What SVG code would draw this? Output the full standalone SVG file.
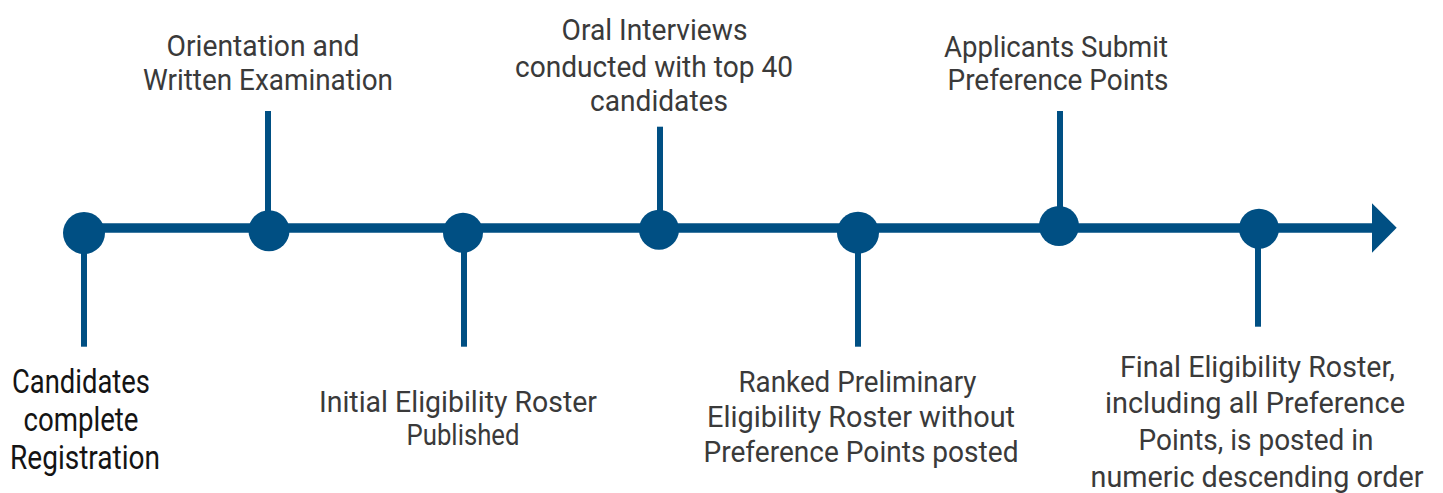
<svg xmlns="http://www.w3.org/2000/svg" width="1443" height="493" viewBox="0 0 1443 493">
<style>
.ln{stroke:#004f83;fill:none}
.main{stroke-width:9.5}
.stem{stroke-width:6}
.dot{fill:#004f83}
.t{font-family:Roboto,"Liberation Sans",sans-serif;font-size:30px;fill:#3a3a3a;text-anchor:middle}
.t2{font-family:Roboto,"Liberation Sans",sans-serif;font-size:33px;fill:#141414;text-anchor:middle}
</style>
<defs>
<marker id="arr" markerUnits="userSpaceOnUse" markerWidth="26" markerHeight="50" refX="0" refY="24.7" orient="auto" viewBox="0 0 26 50">
<path d="M0,0 L24.7,24.4 L0,49.4 z" fill="#004f83"/>
</marker>
</defs>
<g id="connectors">
<line class="ln main" x1="84" y1="228" x2="1372" y2="228" marker-end="url(#arr)"/>
<line class="ln stem" x1="84" y1="233" x2="84" y2="346.7"/>
<line class="ln stem" x1="268" y1="111" x2="268" y2="230"/>
<line class="ln stem" x1="464" y1="233" x2="464" y2="346.7"/>
<line class="ln stem" x1="660" y1="126.7" x2="660" y2="230"/>
<line class="ln stem" x1="858" y1="233" x2="858" y2="346.7"/>
<line class="ln stem" x1="1060" y1="111" x2="1060" y2="226"/>
<line class="ln stem" x1="1258" y1="229" x2="1258" y2="326.7"/>
</g>
<g id="n1">
<circle class="dot" cx="84" cy="233" r="21"/>
<text class="t2"><tspan x="81" y="393.3" textLength="138" lengthAdjust="spacingAndGlyphs">Candidates</tspan><tspan x="81" y="431" textLength="115" lengthAdjust="spacingAndGlyphs">complete</tspan><tspan x="85" y="469.3" textLength="150" lengthAdjust="spacingAndGlyphs">Registration</tspan></text>
</g>
<g id="n2">
<circle class="dot" cx="269" cy="230.7" r="20.5"/>
<text class="t"><tspan x="263" y="56" textLength="193" lengthAdjust="spacingAndGlyphs">Orientation and</tspan><tspan x="268" y="90" textLength="250" lengthAdjust="spacingAndGlyphs">Written Examination</tspan></text>
</g>
<g id="n3">
<circle class="dot" cx="463" cy="232.7" r="20"/>
<text class="t"><tspan x="458" y="411.7" textLength="278" lengthAdjust="spacingAndGlyphs">Initial Eligibility Roster</tspan><tspan x="463" y="445" textLength="113" lengthAdjust="spacingAndGlyphs">Published</tspan></text>
</g>
<g id="n4">
<circle class="dot" cx="659" cy="229.7" r="20"/>
<text class="t"><tspan x="654.5" y="40" textLength="186" lengthAdjust="spacingAndGlyphs">Oral Interviews</tspan><tspan x="654" y="76.5" textLength="278" lengthAdjust="spacingAndGlyphs">conducted with top 40</tspan><tspan x="659" y="111" textLength="138" lengthAdjust="spacingAndGlyphs">candidates</tspan></text>
</g>
<g id="n5">
<circle class="dot" cx="858" cy="232.7" r="21"/>
<text class="t"><tspan x="857.5" y="391.7" textLength="238" lengthAdjust="spacingAndGlyphs">Ranked Preliminary</tspan><tspan x="861" y="427" textLength="308" lengthAdjust="spacingAndGlyphs">Eligibility Roster without</tspan><tspan x="861" y="462" textLength="315" lengthAdjust="spacingAndGlyphs">Preference Points posted</tspan></text>
</g>
<g id="n6">
<circle class="dot" cx="1059" cy="226" r="20"/>
<text class="t"><tspan x="1056" y="56.7" textLength="224" lengthAdjust="spacingAndGlyphs">Applicants Submit</tspan><tspan x="1058" y="90" textLength="221" lengthAdjust="spacingAndGlyphs">Preference Points</tspan></text>
</g>
<g id="n7">
<circle class="dot" cx="1259" cy="228.7" r="20"/>
<text class="t"><tspan x="1257.5" y="376.7" textLength="275" lengthAdjust="spacingAndGlyphs">Final Eligibility Roster,</tspan><tspan x="1255" y="413.3" textLength="300" lengthAdjust="spacingAndGlyphs">including all Preference</tspan><tspan x="1256" y="450" textLength="235" lengthAdjust="spacingAndGlyphs">Points, is posted in</tspan><tspan x="1257" y="486.7" textLength="333" lengthAdjust="spacingAndGlyphs">numeric descending order</tspan></text>
</g>
</svg>
